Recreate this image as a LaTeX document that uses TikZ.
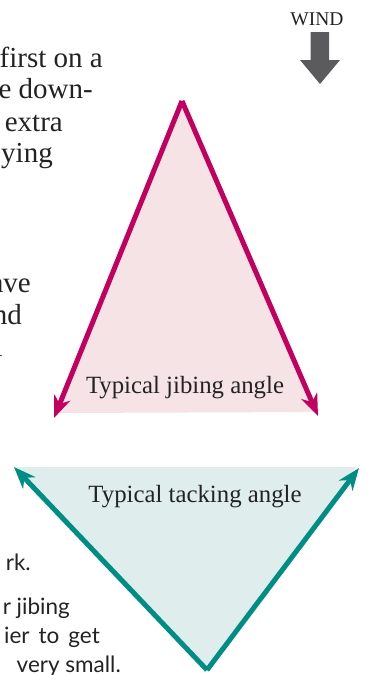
\documentclass[tikz,border=0pt]{standalone}
\usepackage{fontspec}
\setmainfont{Liberation Serif}
\setsansfont{Lato}
\usepackage{tikz}
\usetikzlibrary{arrows.meta}
\definecolor{magentaJibe}{RGB}{194,0,96}
\definecolor{rosaJibe}{RGB}{246,227,230}
\definecolor{tealTack}{RGB}{0,141,133}
\definecolor{tealFundo}{RGB}{224,237,237}
\definecolor{cinzaVento}{RGB}{91,91,93}
\definecolor{textoCorpo}{RGB}{35,35,35}

\begin{document}
\begin{tikzpicture}[
    x=1pt, y=-1pt,
    every node/.style={inner sep=0pt, text=textoCorpo},
    bodyline/.style={anchor=base east, font=\fontsize{29}{32}\selectfont},
    sideline/.style={anchor=base east, font=\sffamily\fontsize{22.5}{28}\selectfont},
    anglelabel/.style={anchor=base, font=\fontsize{24.8}{30}\selectfont},
    jibeline/.style={draw=magentaJibe, line width=5pt, -{Stealth[length=22pt, width=17pt, inset=7pt]}},
    tackline/.style={draw=tealTack, line width=5pt, -{Stealth[length=22pt, width=17pt, inset=7pt]}}
]
    \useasboundingbox (0,0) rectangle (368,675);

    % Texto cortado a esquerda
    \node[bodyline] (t1) at (103,67) {first on a};
    \node[bodyline] (t2) at (93,98) {e down-};
    \node[bodyline] (t3) at (63,131) {extra};
    \node[bodyline] (t4) at (53,162) {ying};
    \node[bodyline] (t5) at (31,292) {ave};
    \node[bodyline] (t6) at (22,324) {nd};
    \node[bodyline] (t7) at (3,356) {l};

    \node[sideline] (s1) at (31,570) {rk.};
    \node[sideline] (s2) at (70,614) {r jibing};
    \node[sideline] (s3) at (100,643) {ier\hspace{9pt}to\hspace{9pt}get};
    \node[sideline] (s4) at (121,672) {very small.};

    % Vento
    \node[anchor=base, font=\fontsize{19.5}{22}\selectfont] (wind) at (317,25) {WIND};
    \fill[cinzaVento] (310.5,32) -- (329,32) -- (329,60) -- (340,60) -- (320,84)
        -- (300,60) -- (310.5,60) -- cycle;

    % Angulo de jibe
    \coordinate (jibeApex) at (182,101);
    \coordinate (jibeLeft) at (54,418);
    \coordinate (jibeRight) at (318,416);
    \fill[rosaJibe] (jibeApex) -- (58,413) -- (315,412) -- cycle;
    \draw[jibeline] (jibeApex) -- (jibeLeft);
    \draw[jibeline] (jibeApex) -- (jibeRight);
    \node[anglelabel] (jibeText) at (185,393) {Typical jibing angle};

    % Angulo de tack
    \coordinate (tackApex) at (207,670);
    \coordinate (tackLeft) at (14,467);
    \coordinate (tackRight) at (359,468);
    \fill[tealFundo] (tackApex) -- (17,467) -- (356,467) -- cycle;
    \draw[tackline] (tackApex) -- (tackLeft);
    \draw[tackline] (tackApex) -- (tackRight);
    \node[anglelabel] (tackText) at (195,502) {Typical tacking angle};

\end{tikzpicture}
\end{document}
